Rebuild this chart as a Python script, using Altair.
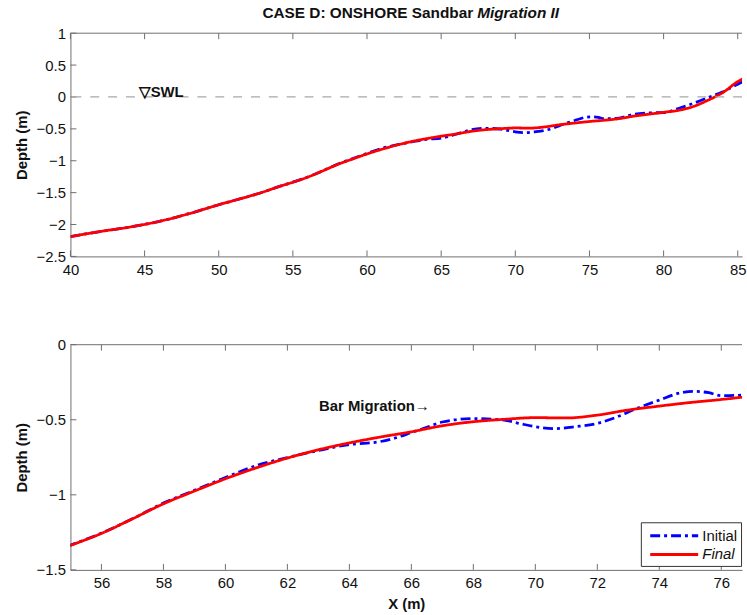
import altair as alt
import pandas as pd

# ---------------- data ----------------
x_final = [40, 42, 44, 46, 48, 50, 52, 53, 54, 55, 56, 57, 58, 59, 60, 61, 62, 63, 64, 65,
           66, 67, 68, 69, 70, 71, 72, 73, 74, 75, 76, 77, 78, 79, 80, 81, 82, 83, 84, 85, 86]
depth_final = [-2.19, -2.11, -2.04, -1.95, -1.83, -1.69, -1.56, -1.49, -1.41, -1.337, -1.257,
               -1.16, -1.06, -0.975, -0.893, -0.82, -0.755, -0.70, -0.654, -0.615, -0.58,
               -0.54, -0.513, -0.497, -0.486, -0.488, -0.469, -0.435, -0.409, -0.385, -0.365,
               -0.34, -0.30, -0.27, -0.24, -0.21, -0.15, -0.05, 0.07, 0.24, 0.35]

x_initial = [40, 42, 44, 46, 48, 50, 52, 53, 54, 55, 56, 57, 58, 59, 60, 61, 62, 63, 64, 65,
             65.5, 66, 66.5, 67, 68, 69, 69.5, 70, 70.6, 71.3, 72, 72.6, 73.2, 74, 74.7, 75.1,
             75.6, 76, 77, 78, 79, 80, 81, 82, 83, 84, 85, 86]
depth_initial = [-2.19, -2.11, -2.04, -1.95, -1.83, -1.69, -1.56, -1.49, -1.41, -1.335, -1.255,
                 -1.16, -1.055, -0.97, -0.885, -0.805, -0.752, -0.705, -0.665, -0.645,
                 -0.62, -0.585, -0.55, -0.515, -0.492, -0.503, -0.525, -0.546, -0.559, -0.546,
                 -0.524, -0.484, -0.431, -0.369, -0.32, -0.311, -0.32, -0.34, -0.33, -0.27,
                 -0.25, -0.245, -0.18, -0.10, -0.01, 0.08, 0.20, 0.30]

series_names = ["Initial", "Final"]
series_colors = ["#0000ff", "#ff0000"]
series_dashes = [[10, 4, 3, 4], [1, 0]]

top_x_ticks = [40, 45, 50, 55, 60, 65, 70, 75, 80, 85]
top_y_ticks = [-2.5, -2, -1.5, -1, -0.5, 0, 0.5, 1]
bot_x_ticks = [56, 58, 60, 62, 64, 66, 68, 70, 72, 74, 76]
bot_y_ticks = [-1.5, -1, -0.5, 0]

title_parts = ["CASE D: ONSHORE Sandbar", "Migration II"]
swl_label = ["\u25bdSWL"]
swl_pos_x = [44.6]
swl_pos_y = [0.0]
bar_label = ["Bar Migration\u2192"]
bar_pos_x = [63.02]
bar_pos_y = [-0.44]

# ---------------- styling ----------------
AX = "#6e6e6e"
FONT = "Liberation Sans"
TXT = "#111111"
FS = 15
W = 677
H_TOP = 225
H_BOT = 227
TOP_XDOM = [40, 85.29]
TOP_YDOM = [-2.5, 1]
BOT_XDOM = [55, 76.67]
BOT_YDOM = [-1.5, 0]
TICK = 6

profiles = pd.concat([
    pd.DataFrame({"X": x_initial, "Depth": depth_initial, "Series": "Initial"}),
    pd.DataFrame({"X": x_final, "Depth": depth_final, "Series": "Final"}),
], ignore_index=True)


def make_panel(xdom, ydom, xticks, yticks, h, xtitle, legend, extra):
    xs = alt.Scale(domain=xdom, nice=False, zero=False)
    ys = alt.Scale(domain=ydom, nice=False, zero=False)
    xaxis = alt.Axis(values=xticks, format="~g", ticks=False, labelPadding=6,
                     labelFlush=False, labelOverlap=False, grid=False, title=xtitle,
                     titlePadding=6)
    yaxis = alt.Axis(values=yticks, title="Depth (m)", format="~g", ticks=False,
                     labelPadding=5, grid=False, titlePadding=7, labelOverlap=False)

    def X(f):
        return alt.X(f, scale=xs, axis=xaxis, title=xtitle)

    def Y(f):
        return alt.Y(f, scale=ys, axis=yaxis, title="Depth (m)")

    xt = pd.DataFrame({"X": xticks})
    yt = pd.DataFrame({"Depth": yticks})
    layers = []
    layers.append(alt.Chart(profiles).mark_line(clip=True, strokeWidth=2.8, interpolate="monotone").encode(
        x=X("X:Q"), y=Y("Depth:Q"),
        color=alt.Color("Series:N", scale=alt.Scale(domain=series_names, range=series_colors),
                        legend=legend),
        strokeDash=alt.StrokeDash("Series:N", scale=alt.Scale(domain=series_names, range=series_dashes),
                                  legend=legend),
    ))
    layers.append(alt.Chart(xt).mark_rule(color=AX, strokeWidth=1).encode(
        x=X("X:Q"), y=alt.value(0), y2=alt.value(TICK)))
    layers.append(alt.Chart(xt).mark_rule(color=AX, strokeWidth=1).encode(
        x=X("X:Q"), y=alt.value(h - TICK), y2=alt.value(h)))
    layers.append(alt.Chart(yt).mark_rule(color=AX, strokeWidth=1).encode(
        y=Y("Depth:Q"), x=alt.value(0), x2=alt.value(TICK)))
    layers.append(alt.Chart(xt.head(1)).mark_rule(color=AX, strokeWidth=1).encode(
        x=alt.value(0), x2=alt.value(W), y=alt.value(0)))
    for kind, df, props in extra:
        if kind == "hrule":
            layers.append(alt.Chart(df).mark_rule(**props).encode(y=Y("Depth:Q")))
        elif kind == "label":
            layers.append(alt.Chart(df).mark_text(**props).encode(
                x=X("X:Q"), y=Y("Depth:Q"), text="label:N"))
        elif kind == "pixtext":
            px, py = props.pop("px"), props.pop("py")
            layers.append(alt.Chart(df).mark_text(**props).encode(
                x=alt.value(px), y=alt.value(py), text="label:N"))
    return alt.layer(*layers).properties(width=W, height=h)


text_props = dict(align="left", baseline="alphabetic", fontSize=FS, fontWeight="bold",
                  font=FONT, color=TXT)

top = make_panel(
    TOP_XDOM, TOP_YDOM, top_x_ticks, top_y_ticks, H_TOP, None, None,
    [
        ("hrule", pd.DataFrame({"Depth": [0.0]}),
         dict(color="#a8a8a8", strokeDash=[9, 9], strokeWidth=1.3)),
        ("label", pd.DataFrame({"X": swl_pos_x, "Depth": swl_pos_y, "label": swl_label}),
         dict(text_props)),
        ("pixtext", pd.DataFrame({"label": [title_parts[0]]}),
         dict(align="right", baseline="alphabetic", fontSize=15.5, fontWeight="bold",
              font=FONT, color=TXT, px=406, py=-15)),
        ("pixtext", pd.DataFrame({"label": [title_parts[1]]}),
         dict(align="left", baseline="alphabetic", fontSize=15.5, fontWeight="bold",
              fontStyle="italic", font=FONT, color=TXT, px=410, py=-15)),
    ],
)

legend = alt.Legend(orient="none", legendX=575, legendY=179, title=None,
                    symbolType="M-0.45,0H4.92", symbolSize=324, symbolStrokeWidth=3,
                    labelOffset=38, labelFontSize=FS, labelFont=FONT, labelColor=TXT,
                    labelFontStyle={"expr": "datum.label == 'Final' ? 'italic' : 'normal'"},
                    padding=3, strokeColor="#333333", fillColor="white", rowPadding=0)

bottom = make_panel(
    BOT_XDOM, BOT_YDOM, bot_x_ticks, bot_y_ticks, H_BOT, "X (m)", legend,
    [
        ("label", pd.DataFrame({"X": bar_pos_x, "Depth": bar_pos_y, "label": bar_label}),
         dict(text_props)),
    ],
)

chart = alt.vconcat(top, bottom, spacing=61).resolve_scale(
    color="independent", strokeDash="independent"
).configure(
    padding={"left": 14, "top": 4, "right": 0, "bottom": 0},
    background="white",
).configure_view(stroke=None).configure_axis(
    labelFont=FONT, labelFontSize=FS, labelColor=TXT,
    titleFont=FONT, titleFontSize=FS, titleFontWeight="bold", titleColor=TXT,
    domainColor=AX, domainWidth=1,
)

chart.save("out.html", embed_options={"renderer": "svg", "actions": False})
